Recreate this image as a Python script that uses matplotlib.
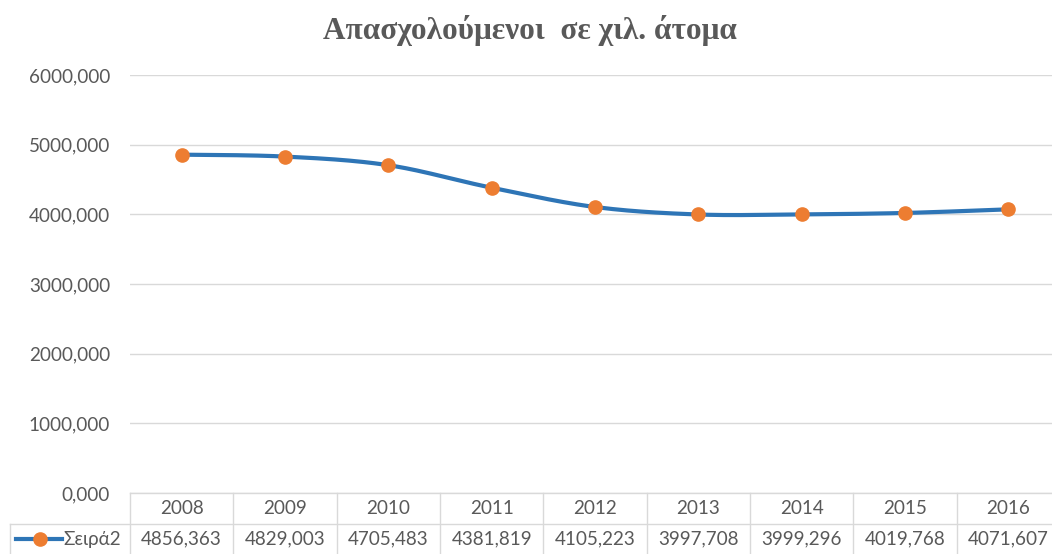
import numpy as np
import matplotlib.pyplot as plt
from matplotlib.transforms import blended_transform_factory
from matplotlib.lines import Line2D

years = ['2008', '2009', '2010', '2011', '2012', '2013', '2014', '2015', '2016']
values = [4856.363, 4829.003, 4705.483, 4381.819, 4105.223, 3997.708, 3999.296, 4019.768, 4071.607]
series_name = 'Σειρά2'
title = 'Απασχολούμενοι  σε χιλ. άτομα'
yticks = [0, 1000, 2000, 3000, 4000, 5000, 6000]

LINE_C = '#2e75b6'
MARK_C = '#ed7d31'
TXT_C = '#595959'
GRID_C = '#d9d9d9'


def fmt(v):
    return '{:.3f}'.format(v).replace('.', ',')


def smooth(xs, ys, n=30):
    # catmull-rom style smoothing, roughly like excel's smoothed line
    xs = np.asarray(xs, float)
    ys = np.asarray(ys, float)
    px = np.concatenate([[xs[0]], xs, [xs[-1]]])
    py = np.concatenate([[ys[0]], ys, [ys[-1]]])
    out_x, out_y = [], []
    for i in range(1, len(px) - 2):
        t = np.linspace(0, 1, n)
        p0, p1, p2, p3 = [np.array([px[j], py[j]]) for j in (i - 1, i, i + 1, i + 2)]
        c1 = p1 + (p2 - p0) / 6
        c2 = p2 - (p3 - p1) / 6
        pts = ((1 - t) ** 3)[:, None] * p1 + (3 * (1 - t) ** 2 * t)[:, None] * c1 \
            + (3 * (1 - t) * t ** 2)[:, None] * c2 + (t ** 3)[:, None] * p2
        out_x.extend(pts[:, 0])
        out_y.extend(pts[:, 1])
    return out_x, out_y


plt.rcParams['font.family'] = ['Lato', 'DejaVu Sans']
FS = 13.6

W, H = 1052, 554
fig = plt.figure(figsize=(W / 100, H / 100), dpi=100)
x0, x1 = 130, 1060
y0, y1 = 493, 75
ax = fig.add_axes([x0 / W, 1 - y0 / H, (x1 - x0) / W, (y0 - y1) / H])

xs = np.arange(len(years))
sx, sy = smooth(xs, values)
ax.plot(sx, sy, color=LINE_C, lw=3, solid_capstyle='round', zorder=3)
ax.plot(xs, values, 'o', color=MARK_C, ms=9.5, zorder=4)

ax.set_xlim(-0.5, len(years) - 0.5)
ax.set_ylim(0, 6000)
ax.set_yticks(yticks)
ax.set_yticklabels([fmt(v) for v in yticks])
ax.set_xticks([])
ax.tick_params(axis='y', length=0, colors=TXT_C, labelsize=FS, pad=14.4)
ax.grid(axis='y', color=GRID_C, lw=1)
for s in ax.spines.values():
    s.set_visible(False)

fig.text(530 / W, 1 - 30 / H, title, ha='center', va='center', fontsize=22.5,
         fontweight='bold', family='Liberation Serif', color=TXT_C)

# data table under the plot
tr = blended_transform_factory(ax.transData, fig.transFigure)
row_top = 1 - 493 / H
row_mid = 1 - 524 / H
row_bot = 1 - 554 / H
n = len(years)
lkw = dict(color=GRID_C, lw=1, clip_on=False)
fig.add_artist(Line2D([-0.5, n - 0.5], [row_top, row_top], transform=tr, **lkw))
fig.add_artist(Line2D([10 / W, x1 / W], [row_mid, row_mid], transform=fig.transFigure, **lkw))
fig.add_artist(Line2D([10 / W, 10 / W], [row_mid, row_bot], transform=fig.transFigure, **lkw))
for i in range(n + 1):
    fig.add_artist(Line2D([i - 0.5, i - 0.5], [row_top, row_bot], transform=tr, **lkw))
for i, (yr, v) in enumerate(zip(years, values)):
    fig.text(i, (row_top + row_mid) / 2, yr, transform=tr, ha='center', va='center',
             fontsize=FS, color=TXT_C)
    fig.text(i, (row_mid + row_bot) / 2, fmt(v), transform=tr, ha='center', va='center',
             fontsize=FS, color=TXT_C)

# legend key in the row header
ly = (row_mid + row_bot) / 2
fig.add_artist(Line2D([16 / W, 62 / W], [ly, ly], transform=fig.transFigure,
                      color=LINE_C, lw=3))
fig.add_artist(Line2D([40 / W], [ly], transform=fig.transFigure, marker='o',
                      color=MARK_C, ms=9.5, lw=0))
fig.text(63 / W, ly, series_name, ha='left', va='center', fontsize=FS, color=TXT_C)

fig.savefig('out.png', dpi=100)
